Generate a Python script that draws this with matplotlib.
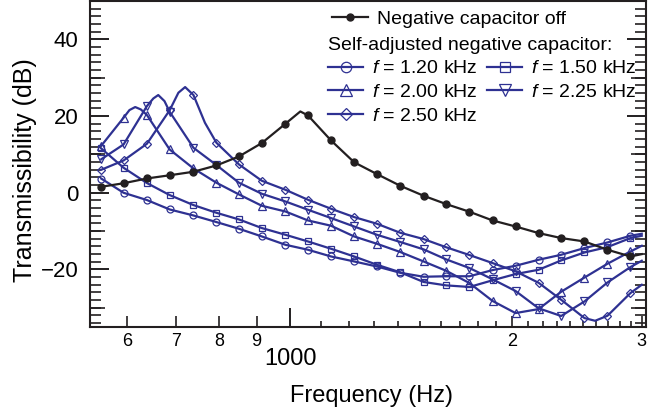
import numpy as np
import matplotlib.pyplot as plt
from matplotlib.ticker import MultipleLocator, NullLocator

plt.rcParams['font.family'] = ['Liberation Sans', 'DejaVu Sans']
plt.rcParams['mathtext.fontset'] = 'custom'
plt.rcParams['mathtext.it'] = 'Liberation Sans:italic'
plt.rcParams['mathtext.rm'] = 'Liberation Sans'

# measurement frequencies where the markers sit (Hz)
freq = [554, 594, 639, 686, 739, 794, 852, 915, 985, 1057, 1136, 1221,
        1311, 1410, 1517, 1628, 1751, 1882, 2022, 2173, 2332, 2508, 2695, 2896]

# negative capacitor off
off_db = [1.56, 2.48, 3.73, 4.56, 5.48, 7.12, 9.47, 12.96, 17.99, 20.16, 13.64, 7.95,
          4.88, 1.83, -0.78, -2.95, -4.95, -7.22, -8.79, -10.51, -11.81, -12.70, -14.86, -16.61]
off_extra_f = [1032, 3000]
off_extra_db = [21.2, -16.0]

# self-adjusted negative capacitor, f = 1.20 kHz
f120_db = [3.70, 0.00, -1.90, -4.35, -5.92, -7.64, -9.39, -11.39, -13.56, -14.86, -16.61, -17.91,
           -19.22, -20.86, -21.90, -21.77, -21.77, -20.16, -19.04, -17.47, -16.17, -14.42, -12.96, -11.21]
f120_extra_f = [3000]
f120_extra_db = [-10.69]

# f = 1.50 kHz
f150_db = [11.55, 6.52, 2.53, -0.60, -3.21, -5.22, -6.96, -9.20, -10.95, -12.70, -14.60, -16.61,
           -18.77, -20.73, -23.26, -24.15, -24.56, -22.82, -21.20, -20.08, -17.65, -15.57, -14.16, -11.81]
f150_extra_f = [3000]
f150_extra_db = [-11.21]

# f = 2.00 kHz
f200_db = [12.26, 19.56, 20.26, 11.29, 6.34, 2.61, -0.44, -3.39, -4.88, -7.22, -8.60, -11.39,
           -13.30, -15.44, -17.91, -20.34, -23.55, -28.21, -31.37, -30.33, -25.81, -22.11, -18.51, -15.31]
f200_extra_f = [605, 616, 627, 3000]
f200_extra_db = [21.56, 22.35, 21.72, -13.82]

# f = 2.25 kHz
f225_db = [8.74, 12.59, 22.61, 21.12, 11.73, 7.22, 2.61, -0.26, -2.27, -4.43, -6.60, -8.79,
           -10.95, -12.83, -14.76, -17.37, -19.63, -22.56, -25.61, -30.12, -32.13, -28.34, -23.39, -19.37]
f225_extra_f = [652, 662, 675, 3000]
f225_extra_db = [24.6, 25.48, 23.9, -17.73]

# f = 2.50 kHz
f250_db = [6.00, 8.42, 12.78, 21.51, 25.48, 13.04, 7.38, 3.13, 0.78, -1.83, -4.17, -6.34,
           -8.08, -10.43, -12.07, -14.21, -16.24, -18.33, -20.47, -23.47, -27.90, -32.67, -32.07, -26.15]
f250_extra_f = [705, 720, 766, 2593, 3000]
f250_extra_db = [26.08, 27.56, 18.25, -33.38, -23.99]

blue = '#2E3192'
black = '#231F20'


# 線データ（マーカー点＋補助点）を周波数順に並べる
def merge_curve(db, extra_f, extra_db):
    f = np.array(freq + extra_f, dtype=float)
    y = np.array(db + extra_db, dtype=float)
    order = np.argsort(f)
    marks = np.flatnonzero(order < len(freq)).tolist()
    return f[order], y[order], marks


fig = plt.figure(figsize=(6.48, 4.19), dpi=100)
ax = fig.add_axes([89.5 / 648, 1 - 327 / 419, 556.5 / 648, 326 / 419])

series = [
    (f120_db, f120_extra_f, f120_extra_db, 'o', 5.0, '$f$ = 1.20 kHz'),
    (f150_db, f150_extra_f, f150_extra_db, 's', 4.6, '$f$ = 1.50 kHz'),
    (f200_db, f200_extra_f, f200_extra_db, '^', 5.4, '$f$ = 2.00 kHz'),
    (f225_db, f225_extra_f, f225_extra_db, 'v', 5.4, '$f$ = 2.25 kHz'),
    (f250_db, f250_extra_f, f250_extra_db, 'D', 4.2, '$f$ = 2.50 kHz'),
]
handles = []
for db, ef, edb, mk, ms, lab in series:
    x, y, marks = merge_curve(db, ef, edb)
    h, = ax.plot(x, y, color=blue, lw=1.6, marker=mk, ms=ms, mfc='none', mec=blue,
                 mew=0.9, markevery=marks, label=lab)
    handles.append(h)

x, y, marks = merge_curve(off_db, off_extra_f, off_extra_db)
h_off, = ax.plot(x, y, color=black, lw=1.6, marker='o', ms=5, mfc=black, mec=black,
                 markevery=marks, label='Negative capacitor off')

ax.set_xscale('log')
ax.set_xlim(534, 3040)
ax.set_ylim(-35, 50)

for s in ax.spines.values():
    s.set_linewidth(1.5)
    s.set_color(black)

# x ticks: three tiers
ax.set_xticks([1000])
ax.set_xticklabels(['1000'])
ax.set_xticks([600, 700, 800, 900, 2000, 3000], minor=True)
ax.set_xticklabels(['6', '7', '8', '9', '2', '3'], minor=True)
ax.tick_params(axis='x', which='major', direction='in', length=14, width=1.4,
               pad=15, labelsize=17, color=black)
ax.tick_params(axis='x', which='minor', direction='in', length=8, width=1.2,
               pad=4, labelsize=13, color=black)
secx = ax.secondary_xaxis('bottom')
secx.set_ticks(list(range(1100, 2000, 100)) + list(range(2100, 3000, 100)))
secx.xaxis.set_minor_locator(NullLocator())
secx.tick_params(direction='in', length=4.5, width=1.2, labelbottom=False, color=black)
secx.spines['bottom'].set_visible(False)

# y ticks, left and right
ax.set_yticks([-20, 0, 20, 40])
ax.yaxis.set_minor_locator(MultipleLocator(2))
ax.tick_params(axis='y', which='major', direction='in', length=14, width=1.4,
               pad=8, labelsize=16, right=True, color=black)
ax.tick_params(axis='y', which='minor', direction='in', length=8, width=1.2,
               right=True, color=black)
for side in ['left', 'right']:
    secy = ax.secondary_yaxis(side)
    secy.set_ticks([-30, -10, 10, 30])
    secy.yaxis.set_minor_locator(NullLocator())
    secy.tick_params(direction='in', length=11, width=1.2, labelleft=False,
                     labelright=False, color=black)
    secy.spines[side].set_visible(False)

ax.set_xlabel('Frequency (Hz)', fontsize=17)
ax.xaxis.set_label_coords(0.5076, -0.178)
ax.set_ylabel('Transmissibility (dB)', fontsize=18)
ax.yaxis.set_label_coords(-0.094, 0.482)

leg1 = ax.legend(handles=[h_off], loc='upper left', bbox_to_anchor=(0.4358, 0.972),
                 frameon=False, fontsize=14, borderpad=0, borderaxespad=0,
                 handlelength=1.85, handletextpad=0.45)
ax.add_artist(leg1)
ax.legend(handles=[handles[0], handles[2], handles[4], handles[1], handles[3]], ncol=2,
          title='Self-adjusted negative capacitor:', title_fontsize=14, alignment='left',
          loc='upper left', bbox_to_anchor=(0.4286, 0.891), frameon=False, fontsize=14,
          borderpad=0, borderaxespad=0, handlelength=1.8, handletextpad=0.45,
          columnspacing=0.5, labelspacing=0.32, markerscale=1.5)

fig.savefig('out.png', dpi=100)
